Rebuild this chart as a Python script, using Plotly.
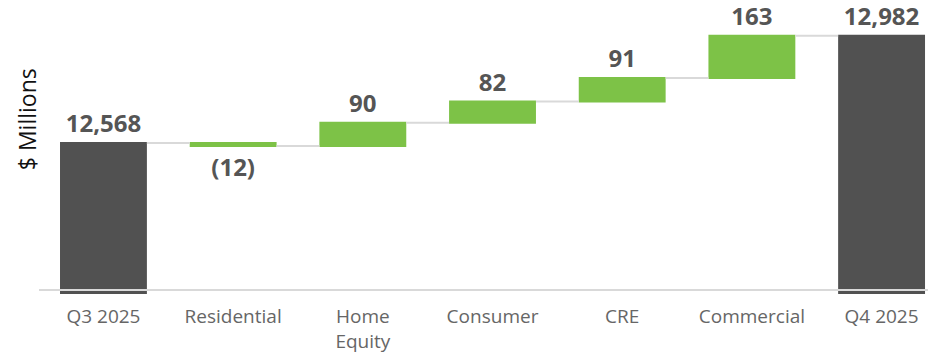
import plotly.graph_objects as go

categories = ["Q3 2025", "Residential", "Home<br>Equity", "Consumer", "CRE", "Commercial", "Q4 2025"]
measures = ["absolute", "relative", "relative", "relative", "relative", "relative", "total"]
values = [12568, -12, 90, 82, 91, 163, 12982]
labels = ["12,568", "(12)", "90", "82", "91", "163", "12,982"]

DARK = "#515151"
GREEN = "#7dc247"
GRID = "#d9d9d9"

fig = go.Figure(go.Waterfall(
    x=categories,
    measure=measures,
    y=[v if m != "total" else 0 for v, m in zip(values, measures)],
    text=labels,
    textposition="outside",
    constraintext="none",
    cliponaxis=False,
    textfont=dict(family="Open Sans", size=24, color="#555555", weight="bold"),
    width=0.67,
    increasing=dict(marker=dict(color=GREEN)),
    decreasing=dict(marker=dict(color=GREEN)),
    totals=dict(marker=dict(color=DARK)),
    connector=dict(mode="between", line=dict(color=GRID, width=2)),
    hoverinfo="skip",
))

fig.update_layout(
    width=928, height=354,
    margin=dict(l=39, r=0, t=0, b=58),
    plot_bgcolor="white", paper_bgcolor="white",
    showlegend=False,
    xaxis=dict(range=[-0.497, 6.358], showgrid=False, zeroline=False, showline=False,
               ticks="", tickfont=dict(family="Open Sans", size=19, color="#666666"),
               ticklabelstandoff=9),
    yaxis=dict(range=[11985, 13120], visible=False),
    shapes=[dict(type="line", xref="paper", x0=0, x1=1, yref="y", y0=12000, y1=12000,
                 line=dict(color=GRID, width=2), layer="above")],
    annotations=[dict(text="$ Millions", xref="paper", yref="paper",
                      x=(27 - 39) / 889, y=(296 - 120) / 296, showarrow=False,
                      textangle=-90, font=dict(family="Open Sans", size=23, color="#111111"),
                      xanchor="center", yanchor="middle")],
)

fig.write_html("out.html")
